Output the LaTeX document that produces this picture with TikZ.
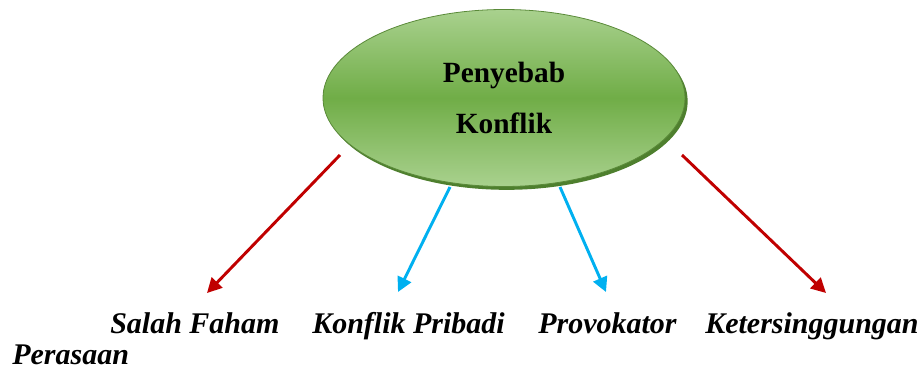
\documentclass[tikz,border=0pt]{standalone}
\usepackage{fontspec}
\setmainfont{Liberation Serif}
\usetikzlibrary{shapes.geometric,shadows,arrows.meta}
\definecolor{leafgreen}{HTML}{70AD47}
\definecolor{palegreen}{HTML}{A9D18E}
\definecolor{darkleaf}{HTML}{4E7F2E}
\definecolor{arrowred}{HTML}{C00000}
\definecolor{arrowblue}{HTML}{00B0F0}
\tikzset{
  cause/.style={ellipse,minimum width=271.5pt,minimum height=132.75pt,
    top color=palegreen,bottom color=palegreen,middle color=leafgreen,
    draw=leafgreen!80!black,line width=0.6pt,
    drop shadow={fill=darkleaf,shadow xshift=2pt,shadow yshift=-2.5pt,opacity=1},
    font=\bfseries\fontsize{22}{26}\selectfont,align=center},
  effect/.style={anchor=base west,inner sep=0pt,
    font=\bfseries\itshape\fontsize{22.5}{27}\selectfont},
  link/.style={-{Triangle[length=11pt,width=11pt]},line width=2.2pt}
}
\begin{document}
\begin{tikzpicture}[x=0.75pt,y=-0.75pt]
            \useasboundingbox (0,0) rectangle (922,371);
            % Draw main node
            \node[cause] (konflik) at (504,98) {Penyebab\\[12pt]Konflik};
            % Label causes
            \node[effect] (salah) at (110,333) {Salah Faham};
            \node[effect] (pribadi) at (312,333) {Konflik Pribadi};
            \node[effect] (provokator) at (538,333) {Provokator};
            \node[effect] (singgung) at (705,333) {Ketersinggungan};
            \node[effect] (perasaan) at (12,364) {Perasaan};
            % Draw arrows
            \coordinate (a1) at (340,155); \coordinate (b1) at (207,293);
            \coordinate (a2) at (450,187); \coordinate (b2) at (398,292);
            \coordinate (a3) at (560,187); \coordinate (b3) at (606,292);
            \coordinate (a4) at (682,155); \coordinate (b4) at (826,293);
            \draw[link,arrowred] (a1) -- (b1);
            \draw[link,arrowblue] (a2) -- (b2);
            \draw[link,arrowblue] (a3) -- (b3);
            \draw[link,arrowred] (a4) -- (b4);
        \end{tikzpicture}
\end{document}
